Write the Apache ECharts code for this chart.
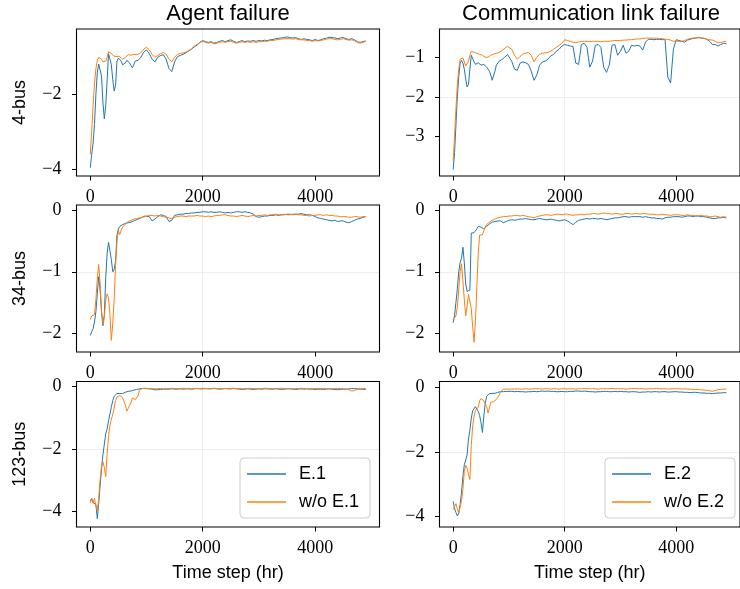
<!DOCTYPE html>
<html>
<head>
<meta charset="utf-8">
<script src="https://cdn.jsdelivr.net/npm/echarts@6/dist/echarts.min.js"></script>
<style>
  html, body { margin: 0; padding: 0; background: #fff; }
  #chart { width: 740px; height: 589px; }
</style>
</head>
<body>
<div id="chart"></div>
<script>
// time axis (hr): 25 hr steps up to 1000, then 50 hr steps
const timeSteps = [
  0, 25, 50, 75, 100, 125, 150, 175, 200, 225,
  250, 275, 300, 325, 350, 375, 400, 425, 450, 475,
  500, 525, 550, 575, 600, 625, 650, 675, 700, 725,
  750, 775, 800, 825, 850, 875, 900, 925, 950, 975,
  1000,
  1050, 1100, 1150, 1200, 1250, 1300, 1350, 1400, 1450, 1500,
  1550, 1600, 1650, 1700, 1750, 1800, 1850, 1900, 1950, 2000,
  2050, 2100, 2150, 2200, 2250, 2300, 2350, 2400, 2450, 2500,
  2550, 2600, 2650, 2700, 2750, 2800, 2850, 2900, 2950, 3000,
  3050, 3100, 3150, 3200, 3250, 3300, 3350, 3400, 3450, 3500,
  3550, 3600, 3650, 3700, 3750, 3800, 3850, 3900, 3950, 4000,
  4050, 4100, 4150, 4200, 4250, 4300, 4350, 4400, 4450, 4500,
  4550, 4600, 4650, 4700, 4750, 4800, 4850, 4900
];

// agent failure, 4-bus
const agent4E1 = [
  -3.96, -3.6, -3.3, -2.8, -2.0, -1.4, -1.18, -1.15, -1.5, -2.2,
  -2.65, -2.3, -1.6, -0.9, -0.92, -1.2, -1.6, -1.9, -1.75, -1.1,
  -1.02, -1.05, -1.1, -1.2, -1.25, -1.15, -1.08, -1.1, -1.15, -1.22,
  -1.28, -1.25, -1.1, -1.06, -1.08, -1.05, -1.0, -0.95, -0.86, -0.82,
  -0.8,
  -0.9, -1.05, -1.12, -1.0, -0.95, -0.93, -1.05, -1.3, -1.38, -1.12,
  -0.98, -0.95, -0.92, -0.88, -0.83, -0.78, -0.72, -0.67, -0.6, -0.55,
  -0.58, -0.6, -0.58, -0.62, -0.6, -0.57, -0.55, -0.58, -0.55, -0.53,
  -0.57, -0.6, -0.58, -0.55, -0.58, -0.56, -0.57, -0.55, -0.57, -0.55,
  -0.56, -0.54, -0.55, -0.53, -0.52, -0.5, -0.49, -0.48, -0.47, -0.45,
  -0.47, -0.48, -0.47, -0.5, -0.52, -0.5, -0.52, -0.53, -0.55, -0.52,
  -0.55, -0.53, -0.5, -0.49, -0.46, -0.47, -0.48, -0.5, -0.48, -0.47,
  -0.5, -0.52, -0.5, -0.53, -0.58, -0.6, -0.58, -0.56
];
const agent4Wo = [
  -3.6, -3.0, -2.3, -1.7, -1.3, -1.08, -1.0, -1.0, -1.05, -1.12,
  -1.15, -1.1, -1.0, -0.85, -0.86, -0.9, -0.95, -0.97, -0.97, -0.98,
  -0.97, -0.98, -1.0, -1.05, -1.07, -1.0, -0.95, -0.93, -0.92, -0.94,
  -0.93, -0.92, -0.92, -0.93, -0.92, -0.9, -0.88, -0.84, -0.78, -0.74,
  -0.73,
  -0.8, -0.92, -1.0, -0.95, -0.9, -0.87, -0.92, -1.05, -1.12, -1.0,
  -0.92, -0.9, -0.88, -0.86, -0.82, -0.77, -0.7, -0.65, -0.6, -0.57,
  -0.6, -0.62, -0.6, -0.64, -0.62, -0.6, -0.58, -0.6, -0.58, -0.57,
  -0.6, -0.62, -0.6, -0.58, -0.6, -0.58, -0.6, -0.58, -0.6, -0.58,
  -0.58, -0.57, -0.57, -0.55, -0.55, -0.53, -0.52, -0.51, -0.5, -0.5,
  -0.5, -0.51, -0.5, -0.52, -0.53, -0.53, -0.55, -0.55, -0.57, -0.55,
  -0.56, -0.55, -0.53, -0.51, -0.5, -0.5, -0.52, -0.53, -0.52, -0.5,
  -0.52, -0.54, -0.53, -0.55, -0.6, -0.62, -0.6, -0.57
];

// communication link failure, 4-bus
const link4E2 = [
  -3.83, -3.4, -2.7, -2.0, -1.5, -1.15, -1.08, -1.15, -1.3, -1.55,
  -1.75, -1.68, -1.3, -0.95, -1.0, -1.12, -1.18, -1.17, -1.14, -1.15,
  -1.2, -1.22, -1.18, -1.2, -1.25, -1.3, -1.35, -1.45, -1.58, -1.55,
  -1.35, -1.2, -1.15, -1.1, -1.08, -1.06, -1.05, -1.0, -0.95, -0.93,
  -0.97,
  -1.1, -1.3, -1.33, -1.15, -1.12, -1.14, -1.18, -1.35, -1.58, -1.45,
  -1.2, -1.12, -1.1, -1.05, -0.97, -0.93, -0.85, -0.8, -0.72, -0.68,
  -0.7, -0.72, -0.73, -1.15, -1.18, -0.68, -0.65, -0.75, -1.25, -1.1,
  -0.7, -0.68, -0.75, -1.25, -1.38, -1.2, -0.7, -0.68, -0.95, -0.85,
  -0.7, -0.9, -0.85, -0.7, -0.72, -0.7, -0.72, -0.82, -0.62, -0.55,
  -0.55, -0.56, -0.55, -0.55, -0.56, -0.55, -1.5, -1.65, -0.8, -0.56,
  -0.58, -0.6, -0.62, -0.57, -0.55, -0.53, -0.52, -0.51, -0.52, -0.52,
  -0.55, -0.6, -0.68, -0.68, -0.72, -0.68, -0.65, -0.66
];
const link4Wo = [
  -3.62, -3.0, -2.3, -1.7, -1.3, -1.05, -1.0, -1.02, -1.12, -1.22,
  -1.2, -1.1, -0.95, -0.85, -0.86, -0.88, -0.88, -0.9, -0.9, -0.93,
  -0.93, -0.95, -0.97, -1.0, -1.02, -1.0, -0.97, -0.95, -0.93, -0.92,
  -0.92, -0.9, -0.9, -0.88, -0.86, -0.83, -0.8, -0.78, -0.75, -0.73,
  -0.72,
  -0.8, -0.95, -1.05, -0.98, -0.92, -0.9, -0.88, -0.95, -1.12, -1.0,
  -0.93, -0.9, -0.89, -0.88, -0.85, -0.8, -0.75, -0.7, -0.65, -0.56,
  -0.58, -0.6, -0.62, -0.64, -0.62, -0.6, -0.6, -0.6, -0.61, -0.6,
  -0.6, -0.6, -0.61, -0.6, -0.6, -0.6, -0.59, -0.58, -0.58, -0.58,
  -0.57, -0.57, -0.56, -0.56, -0.55, -0.54, -0.54, -0.53, -0.52, -0.52,
  -0.52, -0.52, -0.52, -0.53, -0.53, -0.55, -0.55, -0.57, -0.6, -0.6,
  -0.6, -0.6, -0.58, -0.55, -0.53, -0.52, -0.51, -0.5, -0.51, -0.53,
  -0.55, -0.56, -0.57, -0.6, -0.64, -0.63, -0.61, -0.6
];

// agent failure, 34-bus
const agent34E1 = [
  -2.04, -1.98, -1.93, -1.82, -1.65, -1.35, -1.08, -1.3, -1.65, -1.88,
  -1.7, -1.1, -0.7, -0.52, -0.55, -0.8, -1.0, -0.96, -0.82, -0.4,
  -0.3, -0.26, -0.24, -0.23, -0.22, -0.21, -0.21, -0.2, -0.19, -0.19,
  -0.18, -0.17, -0.16, -0.15, -0.14, -0.13, -0.12, -0.11, -0.1, -0.09,
  -0.09,
  -0.1, -0.17, -0.14, -0.1, -0.07, -0.08, -0.1, -0.18, -0.16, -0.08,
  -0.07, -0.06, -0.06, -0.05, -0.05, -0.04, -0.04, -0.03, -0.03, -0.02,
  -0.02, -0.03, -0.02, -0.03, -0.03, -0.02, -0.03, -0.04, -0.03, -0.04,
  -0.03, -0.02, -0.02, -0.03, -0.02, -0.03, -0.04, -0.06, -0.1, -0.11,
  -0.1, -0.09, -0.09, -0.08, -0.08, -0.07, -0.08, -0.07, -0.07, -0.06,
  -0.06, -0.07, -0.06, -0.06, -0.05, -0.06, -0.07, -0.07, -0.08, -0.1,
  -0.12, -0.13, -0.14, -0.15, -0.16, -0.17, -0.16, -0.18, -0.17, -0.17,
  -0.19, -0.2, -0.18, -0.16, -0.14, -0.13, -0.11, -0.1
];
const agent34Wo = [
  -1.78, -1.72, -1.75, -1.7, -1.45, -1.12, -0.88, -1.2, -1.65, -1.85,
  -1.75, -1.47, -1.36, -1.42, -1.7, -2.12, -1.85, -1.45, -0.9, -0.5,
  -0.33, -0.39, -0.32, -0.27, -0.25, -0.22, -0.2, -0.18, -0.17, -0.16,
  -0.15, -0.14, -0.13, -0.13, -0.12, -0.12, -0.12, -0.11, -0.11, -0.1,
  -0.09,
  -0.08, -0.08, -0.09, -0.08, -0.09, -0.1, -0.11, -0.12, -0.13, -0.11,
  -0.1, -0.09, -0.09, -0.1, -0.09, -0.09, -0.09, -0.08, -0.09, -0.09,
  -0.1, -0.09, -0.1, -0.09, -0.08, -0.08, -0.07, -0.07, -0.08, -0.09,
  -0.09, -0.1, -0.09, -0.08, -0.09, -0.1, -0.09, -0.08, -0.09, -0.08,
  -0.08, -0.07, -0.08, -0.07, -0.07, -0.06, -0.07, -0.07, -0.06, -0.07,
  -0.07, -0.06, -0.06, -0.07, -0.07, -0.08, -0.08, -0.09, -0.08, -0.08,
  -0.07, -0.07, -0.08, -0.07, -0.08, -0.08, -0.09, -0.09, -0.1, -0.1,
  -0.1, -0.11, -0.11, -0.1, -0.1, -0.11, -0.1, -0.1
];

// communication link failure, 34-bus
const link34E2 = [
  -1.83, -1.72, -1.5, -1.28, -1.0, -0.85, -0.78, -0.6, -0.85, -1.2,
  -1.32, -1.34, -1.3, -0.37, -0.37, -0.36, -0.35, -0.3, -0.26, -0.25,
  -0.27, -0.29, -0.3, -0.31, -0.26, -0.24, -0.22, -0.2, -0.19, -0.18,
  -0.18, -0.17, -0.17, -0.16, -0.17, -0.18, -0.2, -0.19, -0.18, -0.17,
  -0.16,
  -0.15, -0.16, -0.15, -0.14, -0.14, -0.13, -0.14, -0.15, -0.15, -0.14,
  -0.13, -0.14, -0.15, -0.15, -0.14, -0.15, -0.16, -0.17, -0.16, -0.15,
  -0.17, -0.2, -0.23, -0.19, -0.16, -0.15, -0.14, -0.13, -0.14, -0.13,
  -0.13, -0.14, -0.13, -0.14, -0.15, -0.14, -0.13, -0.12, -0.12, -0.11,
  -0.1, -0.1, -0.11, -0.1, -0.1, -0.1, -0.1, -0.11, -0.1, -0.11,
  -0.12, -0.12, -0.13, -0.13, -0.14, -0.12, -0.11, -0.11, -0.1, -0.1,
  -0.1, -0.11, -0.1, -0.09, -0.09, -0.1, -0.09, -0.09, -0.1, -0.1,
  -0.11, -0.12, -0.13, -0.13, -0.12, -0.12, -0.11, -0.12
];
const link34Wo = [
  -1.78, -1.75, -1.72, -1.58, -1.3, -1.0, -0.87, -1.15, -1.45, -1.72,
  -1.56, -1.37, -1.38, -1.6, -1.9, -2.15, -1.8, -1.24, -0.7, -0.4,
  -0.37, -0.4, -0.33, -0.27, -0.23, -0.21, -0.19, -0.17, -0.16, -0.15,
  -0.14, -0.13, -0.12, -0.11, -0.11, -0.1, -0.1, -0.1, -0.1, -0.09,
  -0.09,
  -0.09, -0.08, -0.08, -0.09, -0.08, -0.09, -0.1, -0.11, -0.12, -0.1,
  -0.09, -0.08, -0.07, -0.07, -0.08, -0.07, -0.06, -0.06, -0.07, -0.06,
  -0.06, -0.07, -0.08, -0.07, -0.07, -0.06, -0.07, -0.06, -0.06, -0.05,
  -0.05, -0.06, -0.05, -0.04, -0.05, -0.05, -0.06, -0.05, -0.05, -0.06,
  -0.06, -0.05, -0.05, -0.06, -0.05, -0.05, -0.06, -0.05, -0.05, -0.06,
  -0.06, -0.06, -0.07, -0.07, -0.06, -0.07, -0.07, -0.08, -0.07, -0.07,
  -0.07, -0.08, -0.08, -0.07, -0.08, -0.08, -0.09, -0.09, -0.08, -0.09,
  -0.09, -0.1, -0.1, -0.09, -0.1, -0.11, -0.1, -0.11
];

// agent failure, 123-bus
const agent123E1 = [
  -3.69, -3.6, -3.74, -3.7, -3.79, -4.25, -3.75, -3.2, -2.65, -2.2,
  -1.85, -1.52, -1.36, -1.1, -0.88, -0.65, -0.45, -0.31, -0.27, -0.22,
  -0.2, -0.22, -0.23, -0.22, -0.21, -0.18, -0.16, -0.15, -0.15, -0.14,
  -0.12, -0.11, -0.1, -0.09, -0.08, -0.07, -0.07, -0.06, -0.06, -0.06,
  -0.07,
  -0.07, -0.08, -0.1, -0.1, -0.09, -0.08, -0.08, -0.08, -0.07, -0.08,
  -0.08, -0.07, -0.08, -0.07, -0.07, -0.08, -0.07, -0.06, -0.07, -0.07,
  -0.06, -0.07, -0.07, -0.06, -0.07, -0.08, -0.07, -0.06, -0.07, -0.07,
  -0.06, -0.07, -0.08, -0.09, -0.08, -0.07, -0.08, -0.09, -0.08, -0.07,
  -0.08, -0.07, -0.07, -0.08, -0.08, -0.07, -0.08, -0.09, -0.08, -0.07,
  -0.07, -0.08, -0.09, -0.08, -0.07, -0.08, -0.07, -0.08, -0.08, -0.09,
  -0.08, -0.08, -0.09, -0.08, -0.07, -0.08, -0.09, -0.1, -0.09, -0.08,
  -0.08, -0.07, -0.06, -0.06, -0.07, -0.08, -0.08, -0.09
];
const agent123Wo = [
  -3.74, -3.6, -3.75, -3.6, -3.85, -4.0, -3.6, -3.0, -2.55, -2.42,
  -2.6, -2.9, -2.15, -1.6, -1.25, -1.05, -0.9, -0.69, -0.45, -0.33,
  -0.3, -0.28, -0.3, -0.35, -0.48, -0.6, -0.79, -0.7, -0.6, -0.5,
  -0.36, -0.4, -0.42, -0.4, -0.3, -0.1, -0.06, -0.06, -0.06, -0.05,
  -0.05,
  -0.06, -0.06, -0.07, -0.06, -0.06, -0.07, -0.06, -0.06, -0.05, -0.06,
  -0.06, -0.06, -0.05, -0.06, -0.06, -0.07, -0.06, -0.06, -0.06, -0.05,
  -0.06, -0.06, -0.06, -0.05, -0.06, -0.06, -0.07, -0.06, -0.06, -0.06,
  -0.05, -0.06, -0.06, -0.07, -0.06, -0.06, -0.05, -0.06, -0.07, -0.06,
  -0.06, -0.05, -0.06, -0.06, -0.07, -0.06, -0.06, -0.05, -0.06, -0.06,
  -0.06, -0.07, -0.06, -0.06, -0.05, -0.06, -0.06, -0.07, -0.06, -0.06,
  -0.06, -0.06, -0.05, -0.06, -0.06, -0.07, -0.06, -0.06, -0.06, -0.07,
  -0.08, -0.1, -0.14, -0.12, -0.08, -0.07, -0.06, -0.06
];

// communication link failure, 123-bus
const link123E2 = [
  -3.53, -3.75, -3.87, -3.98, -3.9, -3.62, -3.25, -2.75, -2.4, -2.42,
  -2.1, -1.6, -1.33, -0.96, -0.73, -0.67, -0.6, -0.6, -0.75, -0.88,
  -1.1, -1.4, -0.9, -0.5, -0.28, -0.24, -0.2, -0.19, -0.19, -0.19,
  -0.19, -0.18, -0.16, -0.15, -0.14, -0.14, -0.14, -0.13, -0.13, -0.13,
  -0.13,
  -0.13, -0.14, -0.13, -0.14, -0.14, -0.15, -0.14, -0.14, -0.13, -0.14,
  -0.13, -0.12, -0.13, -0.12, -0.13, -0.13, -0.14, -0.14, -0.13, -0.14,
  -0.14, -0.13, -0.13, -0.12, -0.12, -0.13, -0.12, -0.13, -0.14, -0.14,
  -0.15, -0.14, -0.14, -0.13, -0.13, -0.14, -0.14, -0.13, -0.14, -0.13,
  -0.14, -0.14, -0.15, -0.14, -0.14, -0.15, -0.16, -0.15, -0.15, -0.14,
  -0.15, -0.14, -0.14, -0.15, -0.14, -0.14, -0.15, -0.15, -0.14, -0.14,
  -0.15, -0.15, -0.16, -0.16, -0.17, -0.16, -0.16, -0.17, -0.18, -0.18,
  -0.19, -0.19, -0.2, -0.19, -0.18, -0.18, -0.17, -0.17
];
const link123Wo = [
  -3.78, -3.75, -3.6, -3.75, -3.9, -3.85, -3.5, -3.15, -2.6, -2.42,
  -2.5, -2.7, -2.85, -1.8, -1.2, -0.9, -0.72, -0.75, -0.62, -0.42,
  -0.35, -0.3, -0.42, -0.5, -0.6, -0.8, -0.65, -0.47, -0.42, -0.45,
  -0.42, -0.38, -0.36, -0.25, -0.14, -0.09, -0.07, -0.06, -0.06, -0.06,
  -0.06,
  -0.06, -0.06, -0.05, -0.06, -0.06, -0.05, -0.06, -0.06, -0.05, -0.05,
  -0.05, -0.06, -0.05, -0.05, -0.06, -0.05, -0.05, -0.06, -0.05, -0.05,
  -0.06, -0.05, -0.05, -0.06, -0.05, -0.05, -0.04, -0.05, -0.05, -0.05,
  -0.05, -0.06, -0.05, -0.05, -0.05, -0.05, -0.04, -0.05, -0.05, -0.05,
  -0.05, -0.06, -0.05, -0.05, -0.04, -0.05, -0.05, -0.05, -0.06, -0.05,
  -0.05, -0.05, -0.04, -0.05, -0.05, -0.05, -0.06, -0.05, -0.05, -0.05,
  -0.05, -0.06, -0.05, -0.06, -0.06, -0.07, -0.07, -0.08, -0.08, -0.09,
  -0.1, -0.11, -0.13, -0.1, -0.08, -0.07, -0.06, -0.06
];

const colTitles = ['Agent failure', 'Communication link failure'];
const rowLabels = ['4-bus', '34-bus', '123-bus'];
const legendNames = [['E.1', 'w/o E.1'], ['E.2', 'w/o E.2']];
const xTicks = [0, 2000, 4000];
const yTicks = [[-4, -2], [-3, -2, -1], [-2, -1, 0], [-2, -1, 0], [-4, -2, 0], [-4, -2, 0]];
const panelSeries = [
  [agent4E1, agent4Wo], [link4E2, link4Wo],
  [agent34E1, agent34Wo], [link34E2, link34Wo],
  [agent123E1, agent123Wo], [link123E2, link123Wo]
];

// layout of each subplot (pixels) and its axis limits
const colLeft = [76.5, 439.5];
const colWidth = [303, 304];
const rowTop = [29, 205, 381.5];
const rowHeight = [147, 147, 145.5];
const yLimits = [[-4.18, -0.24], [-3.99, -0.29], [-2.31, 0.09], [-2.31, 0.09], [-4.52, 0.167], [-4.32, 0.175]];
const ySplit = [2, 4, 2, 2, 2, 2];

const colors = ['#1f77b4', '#ff7f0e'];
const serif = 'Liberation Serif';
const sans = 'Liberation Sans';

function tickText(v) {
  return v < 0 ? '\u2212' + Math.abs(v) : String(v);
}

const grids = [], xAxes = [], yAxes = [], series = [];
for (let i = 0; i < 6; i++) {
  const r = Math.floor(i / 2), c = i % 2;
  grids.push({
    left: colLeft[c], top: rowTop[r], width: colWidth[c], height: rowHeight[r],
    show: true, borderColor: '#000', borderWidth: 1.1, z: 3
  });
  xAxes.push({
    type: 'value', gridIndex: i, min: -245, max: 5145, splitNumber: 3, position: 'bottom',
    axisLine: { show: false, onZero: false },
    axisTick: { show: true, inside: false, length: 4.5, customValues: xTicks, lineStyle: { color: '#000', width: 1 } },
    axisLabel: { customValues: xTicks, formatter: tickText, margin: 12, fontFamily: serif, fontSize: 18, color: '#000' },
    splitLine: { show: true, showMinLine: false, showMaxLine: false, lineStyle: { color: '#ececec', width: 1 } },
    name: r === 2 ? 'Time step (hr)' : '', nameLocation: 'middle', nameGap: 37,
    nameTextStyle: { fontFamily: sans, fontSize: 18, color: '#000' }
  });
  yAxes.push({
    type: 'value', gridIndex: i, min: yLimits[i][0], max: yLimits[i][1], splitNumber: ySplit[i], position: 'left',
    axisLine: { show: false, onZero: false },
    axisTick: { show: true, inside: false, length: 4.5, customValues: yTicks[i], lineStyle: { color: '#000', width: 1 } },
    axisLabel: { customValues: yTicks[i], formatter: tickText, margin: 15, fontFamily: serif, fontSize: 18, color: '#000' },
    splitLine: { show: true, showMinLine: false, showMaxLine: false, lineStyle: { color: '#ececec', width: 1 } },
    name: c === 0 ? rowLabels[r] : '', nameLocation: 'middle', nameRotate: 90, nameGap: 47,
    nameTextStyle: { fontFamily: sans, fontSize: 18, color: '#000' }
  });
  panelSeries[i].forEach((vals, k) => {
    series.push({
      name: legendNames[c][k], type: 'line', xAxisIndex: i, yAxisIndex: i,
      data: timeSteps.map((t, j) => [t, vals[j]]),
      showSymbol: false, symbol: 'none',
      lineStyle: { color: colors[k], width: 1 },
      itemStyle: { color: colors[k] },
      emphasis: { disabled: true }
    });
  });
}

const chart = echarts.init(document.getElementById('chart'));
chart.setOption({
  animation: false,
  backgroundColor: '#fff',
  title: colTitles.map((t, c) => ({
    text: t, left: colLeft[c] + 151.5, top: 3, textAlign: 'center', padding: 0,
    textStyle: { fontFamily: sans, fontSize: 22, fontWeight: 'normal', color: '#000' }
  })),
  legend: legendNames.map((names, c) => ({
    data: names, orient: 'vertical', left: c === 0 ? 240 : 605, top: 458,
    padding: [6, 11, 6, 7], itemGap: 8, itemWidth: 39, itemHeight: 1.5, icon: 'rect',
    textStyle: { fontFamily: sans, fontSize: 18, color: '#000', lineHeight: 20, padding: [0, 0, 0, 8] },
    borderColor: '#cccccc', borderWidth: 1, borderRadius: 4, backgroundColor: 'rgba(255,255,255,0.8)',
    selectedMode: false
  })),
  grid: grids,
  xAxis: xAxes,
  yAxis: yAxes,
  series: series
});
</script>
</body>
</html>
